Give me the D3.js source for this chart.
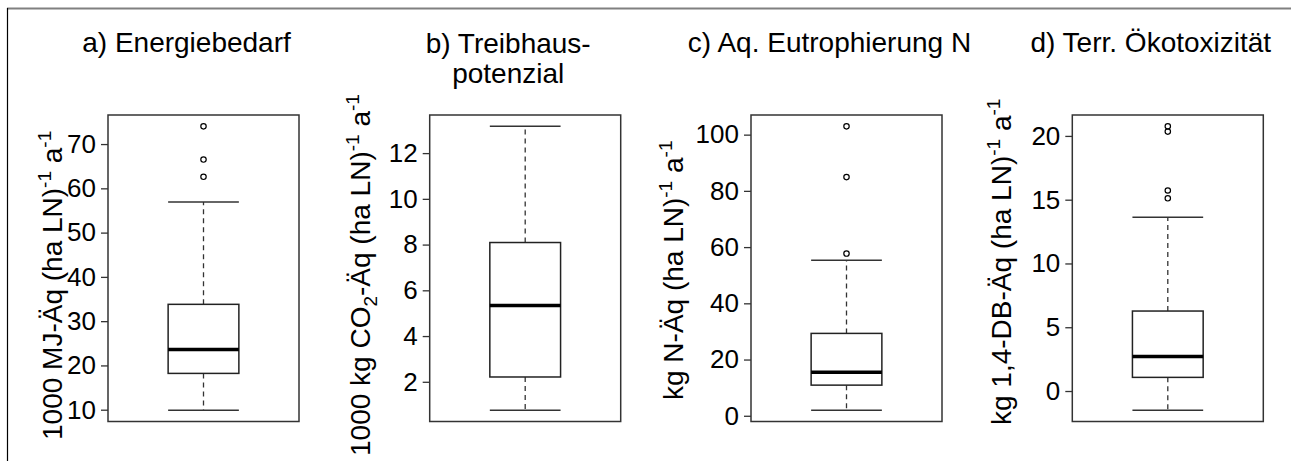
<!DOCTYPE html>
<html>
<head>
<meta charset="utf-8">
<script src="https://cdn.jsdelivr.net/npm/d3@7"></script>
<style>
  body { margin: 0; background: #fff; }
  text { font-family: "Liberation Sans", Arial, sans-serif; fill: #000; }
</style>
</head>
<body>
<div id="container"></div>
<script>
/* chart data */
var titles = [["a) Energiebedarf"], ["b) Treibhaus-", "potenzial"], ["c) Aq. Eutrophierung N"], ["d) Terr. Ökotoxizität"]]
var yTitles = ["1000 MJ-Äq (ha LN)^{-1} a^{-1}",
               "1000 kg CO_{2}-Äq (ha LN)^{-1} a^{-1}",
               "kg N-Äq (ha LN)^{-1} a^{-1}",
               "kg 1,4-DB-Äq (ha LN)^{-1} a^{-1}"]
var lowWhisker  = [9.9, 0.76, 2.0, -1.5]
var q1          = [18.2, 2.21, 10.9, 1.07]
var medians     = [23.6, 5.34, 15.5, 2.7]
var q3          = [33.8, 8.09, 29.3, 6.27]
var highWhisker = [56.9, 13.17, 55.3, 13.63]
var outliers    = [[62.6, 66.5, 74.0], [], [57.7, 84.9, 102.95], [15.11, 15.72, 20.34, 20.75]]
var yTicks      = [[10, 20, 30, 40, 50, 60, 70], [2, 4, 6, 8, 10, 12], [0, 20, 40, 60, 80, 100], [0, 5, 10, 15, 20]]

/* layout */
var W = 1291, H = 461
var plotLeft = [108, 429.7, 751, 1072.3],
    plotW = 191, plotTop = 115, plotBottom = 421.5
var yTitleX = [62, 370, 683, 1011],
    yTitleStart = [440, 456, 400, 425]

var svg = d3.select("#container")
            .append("svg")
            .attr("width", W)
            .attr("height", H)

/* outer frame (only top and left edges visible) */
svg.append("line").attr("x1", 7).attr("x2", W).attr("y1", 8.5).attr("y2", 8.5)
   .attr("stroke", "#808080").attr("stroke-width", 2)
svg.append("line").attr("x1", 7.5).attr("x2", 7.5).attr("y1", 8).attr("y2", H)
   .attr("stroke", "#000").attr("stroke-width", 1.2)

/* write "^{..}" as superscript and "_{..}" as subscript */
function richText(sel, str) {
  var re = /([\^_])\{([^}]*)\}/g, last = 0, m, shift = 0
  function add(t, kind) {
    var ts = sel.append("tspan").text(t)
    var target = kind == "^" ? -11 : kind == "_" ? 7 : 0
    ts.attr("dy", target - shift)
    shift = target
    if (kind) ts.attr("font-size", 19)
  }
  while ((m = re.exec(str)) !== null) {
    if (m.index > last) add(str.slice(last, m.index), null)
    add(m[2], m[1])
    last = re.lastIndex
  }
  if (last < str.length) add(str.slice(last), null)
}

titles.forEach(function(title, i) {
  var left = plotLeft[i]
  var all = [lowWhisker[i], highWhisker[i]].concat(outliers[i])
  var lo = d3.min(all), hi = d3.max(all), pad = (hi - lo) * 0.04

  var y = d3.scaleLinear()
            .domain([lo - pad, hi + pad])
            .range([plotBottom, plotTop])
  var x = d3.scaleLinear()
            .domain([0.46, 1.54])
            .range([left, left + plotW])

  var g = svg.append("g")

  /* plot frame */
  g.append("rect")
    .attr("x", left).attr("y", plotTop)
    .attr("width", plotW).attr("height", plotBottom - plotTop)
    .attr("fill", "none").attr("stroke", "#333").attr("stroke-width", 1.5)

  /* y axis */
  var axis = d3.axisLeft(y).tickValues(yTicks[i]).tickSize(7).tickPadding(5)
  var ax = g.append("g")
    .attr("transform", "translate(" + left + ",0)")
    .call(axis)
  ax.select(".domain").remove()
  ax.selectAll(".tick line").attr("stroke", "#333").attr("stroke-width", 1.3)
  ax.selectAll(".tick text")
    .attr("font-size", 26)
    .attr("font-family", "Liberation Sans, Arial, sans-serif")
    .attr("fill", "#000")

  /* whiskers */
  g.append("line")
    .attr("x1", x(1)).attr("x2", x(1))
    .attr("y1", y(q3[i])).attr("y2", y(highWhisker[i]))
    .attr("stroke", "#333").attr("stroke-width", 1.3).attr("stroke-dasharray", "5,4")
  g.append("line")
    .attr("x1", x(1)).attr("x2", x(1))
    .attr("y1", y(q1[i])).attr("y2", y(lowWhisker[i]))
    .attr("stroke", "#333").attr("stroke-width", 1.3).attr("stroke-dasharray", "5,4")

  /* staples */
  g.selectAll(".staple")
    .data([lowWhisker[i], highWhisker[i]])
    .enter().append("line")
      .attr("class", "staple")
      .attr("x1", x(0.8)).attr("x2", x(1.2))
      .attr("y1", function(d) { return y(d) })
      .attr("y2", function(d) { return y(d) })
      .attr("stroke", "#333").attr("stroke-width", 1.5)

  /* box */
  g.append("rect")
    .attr("x", x(0.8)).attr("y", y(q3[i]))
    .attr("width", x(1.2) - x(0.8)).attr("height", y(q1[i]) - y(q3[i]))
    .attr("fill", "#fff").attr("stroke", "#222").attr("stroke-width", 1.5)

  /* median */
  g.append("line")
    .attr("x1", x(0.8)).attr("x2", x(1.2))
    .attr("y1", y(medians[i])).attr("y2", y(medians[i]))
    .attr("stroke", "#000").attr("stroke-width", 3.5)

  /* outliers */
  g.selectAll(".out")
    .data(outliers[i])
    .enter().append("circle")
      .attr("class", "out")
      .attr("cx", x(1))
      .attr("cy", function(d) { return y(d) })
      .attr("r", 2.7)
      .attr("fill", "none").attr("stroke", "#000").attr("stroke-width", 1.2)

  /* title */
  var cx = left + plotW / 2 - 17
  title.forEach(function(line, k) {
    g.append("text")
      .attr("x", cx)
      .attr("y", (title.length > 1 ? 53 : 52) + k * 30)
      .attr("text-anchor", "middle")
      .attr("font-size", 28)
      .text(line)
  })

  /* y axis title */
  var yt = g.append("text")
    .attr("transform", "translate(" + yTitleX[i] + "," + yTitleStart[i] + ") rotate(-90)")
    .attr("font-size", 28)
  richText(yt, yTitles[i])
})
</script>
</body>
</html>
